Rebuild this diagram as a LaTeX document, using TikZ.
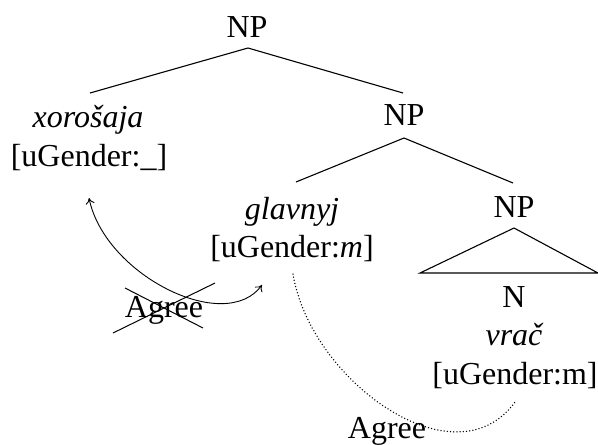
\documentclass[tikz,border=0pt]{standalone}
\usepackage{fontspec}
\setmainfont{Liberation Serif}
\usetikzlibrary{arrows.meta}
\begin{document}
\begin{tikzpicture}[x=1pt,y=-1pt,
  lbl/.style={anchor=base,inner sep=0pt,font=\fontsize{32}{38}\selectfont},
  branch/.style={line width=1.1pt},
  agreearrow/.style={line width=0.9pt,<->,>={To[length=6pt,width=9pt]}},
  agreedots/.style={line width=1.5pt,line cap=round,dash pattern=on 0pt off 3.2pt},
  strike/.style={line width=1pt}]
\useasboundingbox (0,0) rectangle (598,445);
% tree labels
\node[lbl] (np1) at (247,37) {NP};
\node[lbl] (xor) at (88,127) {\itshape xorošaja};
\node[lbl] (xorf) at (89,166) {[uGender:\_]};
\node[lbl] (np2) at (404,125) {NP};
\node[lbl] (gla) at (292,219) {\itshape glavnyj};
\node[lbl] (glaf) at (292,257) {[uGender:\textit{m}]};
\node[lbl] (np3) at (514,217) {NP};
\node[lbl] (n) at (514,307) {N};
\node[lbl] (vra) at (514,345) {\itshape vrač};
\node[lbl] (vraf) at (515,384) {[uGender:m]};
\node[lbl] (ag1) at (164,317) {Agree};
\node[lbl] (ag2) at (387,438) {Agree};
% branch points
\coordinate (np1b) at (248,48);
\coordinate (xort) at (90,93);
\coordinate (np2t) at (403,93);
\coordinate (np2b) at (404,138);
\coordinate (glat) at (296,182);
\coordinate (np3t) at (513,183);
\coordinate (np3b) at (514,228);
\coordinate (trl) at (420,273);
\coordinate (trr) at (598,273);
\draw[branch] (xort) -- (np1b) -- (np2t);
\draw[branch] (glat) -- (np2b) -- (np3t);
\draw[branch] (np3b) -- (trl) -- (trr) -- cycle;
% agree arrows
\coordinate (a1s) at (89,198);
\coordinate (a1e) at (262,285);
\draw[agreearrow] (a1s) .. controls (105,275) and (225,335) .. (a1e);
\coordinate (c1a) at (125,288);
\coordinate (c1b) at (203,328);
\coordinate (c2a) at (113,333);
\coordinate (c2b) at (215,283);
\draw[strike] (c1a) -- (c1b);
\draw[strike] (c2a) -- (c2b);
\coordinate (d1s) at (293,274);
\coordinate (d1e) at (515,402);
\draw[agreedots] (d1s) .. controls (310,380) and (455,485) .. (d1e);
\end{tikzpicture}
\end{document}
